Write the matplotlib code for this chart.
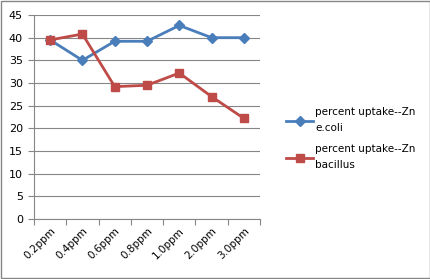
import matplotlib
matplotlib.use("Agg")
import matplotlib.pyplot as plt
from matplotlib.patches import Rectangle

categories = ["0.2ppm", "0.4ppm", "0.6ppm", "0.8ppm", "1.0ppm", "2.0ppm", "3.0ppm"]
ecoli = [39.5, 35.0, 39.2, 39.2, 42.7, 40.0, 40.0]
bacillus = [39.5, 40.8, 29.2, 29.5, 32.2, 27.0, 22.2]
yticks = list(range(0, 50, 5))

plt.rcParams['font.family'] = ['Verdana', 'DejaVu Sans']
plt.rcParams['font.size'] = 7.5

fig = plt.figure(figsize=(4.31, 2.79), dpi=100)
ax = fig.add_axes([34/431, 1 - 219/279, 226/431, 204/279])

x = list(range(len(categories)))
ax.plot(x, ecoli, color="#4A7EBB", lw=2.0, marker="D", ms=5,
        mfc="#4A7EBB", mec="#4A7EBB", label="percent uptake--Zn\ne.coli")
ax.plot(x, bacillus, color="#BE4B48", lw=2.0, marker="s", ms=6,
        mfc="#BE4B48", mec="#BE4B48", label="percent uptake--Zn\nbacillus")

ax.set_xlim(-0.5, len(categories) - 0.5)
ax.set_ylim(0, 45)
ax.set_yticks(yticks)
ax.set_xticks([i - 0.5 for i in range(len(categories) + 1)], minor=False)
ax.set_xticklabels([])
ax.set_xticks(x, minor=True)
ax.set_xticklabels(categories, minor=True, rotation=45, ha="right",
                   rotation_mode="anchor")
ax.tick_params(axis="x", which="minor", length=0, pad=5)
ax.tick_params(axis="x", which="major", length=4, color="#868686", direction="out")
ax.tick_params(axis="y", length=4, color="#868686", direction="out", pad=4,
               labelsize=8)

ax.grid(axis="y", color="#868686", lw=0.8)
ax.set_axisbelow(True)
for s in ["top", "right"]:
    ax.spines[s].set_visible(False)
for s in ["left", "bottom"]:
    ax.spines[s].set_color("#868686")

leg = ax.legend(loc="upper left", bbox_to_anchor=(277/431, 1 - 98/279),
                bbox_transform=fig.transFigure, frameon=False, handlelength=2.6,
                handletextpad=0.15, labelspacing=1.1, fontsize=7.5)
for t in leg.get_texts():
    t.set_linespacing(1.7)

fig.patches.append(Rectangle((0.002, 0.003), 0.995, 0.993, transform=fig.transFigure,
                             fill=False, ec="#868686", lw=1))

fig.savefig("out.png", dpi=100)
